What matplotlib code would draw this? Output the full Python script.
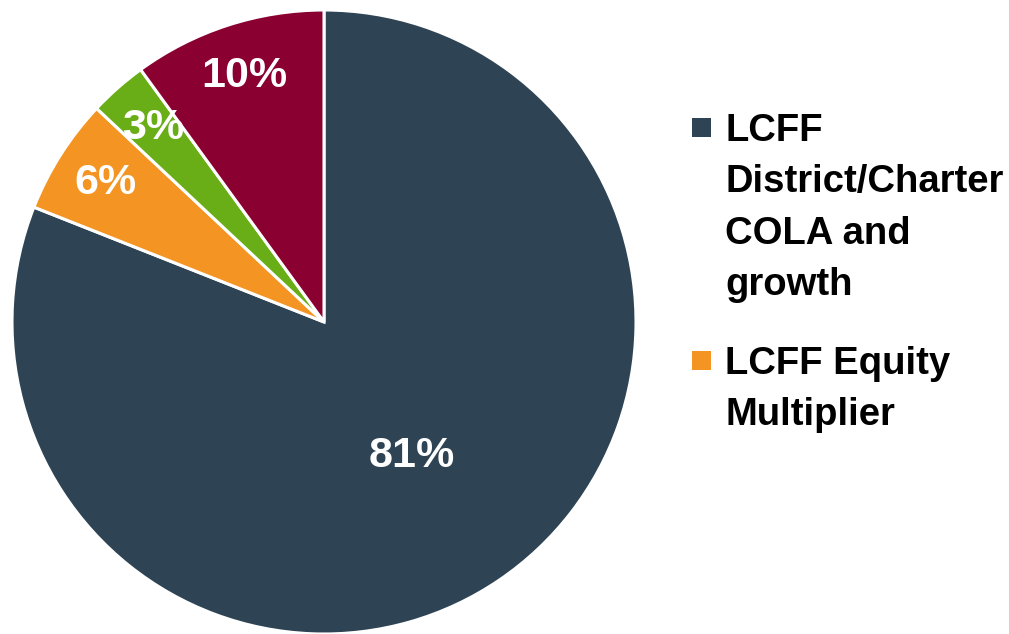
import matplotlib.pyplot as plt
from matplotlib.patches import Rectangle

plt.rcParams['font.family'] = ['Liberation Sans', 'DejaVu Sans']

labels = ["LCFF District/Charter COLA and growth", "LCFF Equity Multiplier",
          "Other 1", "Other 2"]
legend_lines = ["LCFF\nDistrict/Charter\nCOLA and\ngrowth", "LCFF Equity\nMultiplier"]
values = [81, 6, 3, 10]
colors = ["#2E4353", "#F39423", "#6AAE17", "#8A0030"]

fig = plt.figure(figsize=(10.09, 6.34), dpi=100)
ax = fig.add_axes([12/1009, 0, 624/1009, 624/634])
wedges, texts, autotexts = ax.pie(values, colors=colors, startangle=90, counterclock=False,
                                  autopct='%d%%', pctdistance=0.83, radius=1,
                                  wedgeprops=dict(edgecolor='white', linewidth=2.2),
                                  textprops=dict(color='white', fontsize=31, fontweight='bold'))
autotexts[0].set_position((0.28, -0.43))
ax.set_xlim(-1, 1)
ax.set_ylim(-1, 1)
ax.set_aspect('equal')
ax.axis('off')

# legend (only the first two entries are visible)
ys = [112, 345]
for i, txt in enumerate(legend_lines):
    fig.patches.append(Rectangle((692/1009, 1 - (ys[i] + 25)/634), 19/1009, 19/634,
                                 transform=fig.transFigure, facecolor=colors[i],
                                 edgecolor='none'))
    fig.text(725/1009, 1 - (ys[i] + 1)/634, txt, fontsize=27.5, fontweight='bold',
             va='top', ha='left', linespacing=1.55)

fig.savefig("out.png", dpi=100)
